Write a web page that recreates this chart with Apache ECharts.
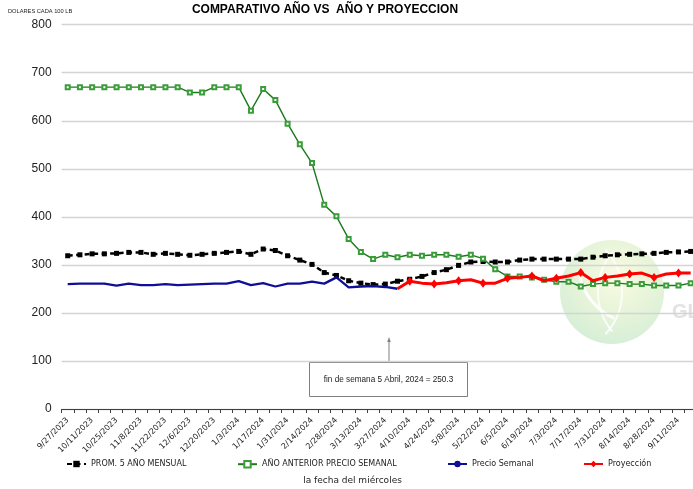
<!DOCTYPE html>
<html>
<head>
<meta charset="utf-8">
<script src="https://cdn.jsdelivr.net/npm/echarts@6/dist/echarts.min.js"></script>
<style>
  html, body { margin: 0; padding: 0; background: #ffffff; }
  #chart { width: 693px; height: 489px; }
</style>
</head>
<body>
<div id="chart"></div>
<script>
// Weekly Wednesday dates
const fechas = [
  '9/27/2023','10/4/2023','10/11/2023','10/18/2023','10/25/2023','11/1/2023','11/8/2023',
  '11/15/2023','11/22/2023','11/29/2023','12/6/2023','12/13/2023','12/20/2023','12/27/2023',
  '1/3/2024','1/10/2024','1/17/2024','1/24/2024','1/31/2024','2/7/2024','2/14/2024',
  '2/21/2024','2/28/2024','3/6/2024','3/13/2024','3/20/2024','3/27/2024','4/3/2024',
  '4/10/2024','4/17/2024','4/24/2024','5/1/2024','5/8/2024','5/15/2024','5/22/2024',
  '5/29/2024','6/5/2024','6/12/2024','6/19/2024','6/26/2024','7/3/2024','7/10/2024',
  '7/17/2024','7/24/2024','7/31/2024','8/7/2024','8/14/2024','8/21/2024','8/28/2024',
  '9/4/2024','9/11/2024','9/18/2024'
];

// Five-year monthly average (USD per 100 lb)
const promedio5Anos = [
  319, 321, 323, 323, 324, 326, 326, 322, 324, 322, 320, 322, 324, 326,
  328, 322, 333, 330, 319, 310, 301, 284, 278, 267, 262, 259, 260, 266,
  270, 276, 284, 290, 299, 306, 307, 306, 306, 310, 312, 312, 312, 312,
  312, 316, 319, 321, 322, 323, 324, 326, 327, 328
];

// Previous year's weekly price
const anoAnterior = [
  670, 670, 670, 670, 670, 670, 670, 670, 670, 670, 659, 659, 670, 670,
  670, 621, 666, 643, 594, 551, 512, 425, 401, 354, 327, 312, 321, 316,
  321, 319, 321, 321, 317, 321, 313, 291, 276, 276, 274, 269, 265, 265,
  255, 260, 262, 262, 260, 260, 257, 257, 257, 262
];

// Weekly price (9/27/2023 .. 4/3/2024)
const precioSemanal = [
  260, 261, 261, 261, 257, 261, 258, 258, 260, 258, 259, 260, 261, 261,
  266, 258, 262, 255, 261, 261, 265, 261, 274, 253, 255, 256, 254, 250.3
];

// Projection (4/3/2024 .. 9/18/2024)
const proyeccion = [
  250.3, 266, 262, 260, 263, 267, 269, 262, 262, 272, 274, 277, 267,
  272, 277, 284, 267, 274, 277, 281, 283, 274, 281, 283, 283
];

const yTicks = { min: 0, max: 800, interval: 100 };

const proyeccionInicio = fechas.length - proyeccion.length;
const blanco = n => Array(n).fill('-');
const serieSemanal = precioSemanal.concat(blanco(fechas.length - precioSemanal.length));
const serieProyeccion = blanco(proyeccionInicio).concat(proyeccion);

const legendFont = { fontFamily: 'DejaVu Sans', fontSize: 8, color: '#222' };
function legendAt(name, left) {
  return {
    data: [name], left: left, top: 460, itemWidth: 19, itemHeight: 8, itemGap: 5,
    textStyle: legendFont, padding: 0, selectedMode: false
  };
}

const chart = echarts.init(document.getElementById('chart'), null, { renderer: 'canvas' });

chart.setOption({
  animation: false,
  backgroundColor: '#ffffff',
  title: [
    {
      text: 'COMPARATIVO AÑO VS  AÑO Y PROYECCION',
      left: 325, top: 4, textAlign: 'center',
      textStyle: { fontFamily: 'Liberation Sans', fontWeight: 'bold', fontSize: 12, color: '#000' },
      padding: 0
    },
    {
      text: 'DOLARES CADA 100 LB',
      left: 8, top: 8,
      textStyle: { fontFamily: 'Liberation Sans', fontWeight: 'normal', fontSize: 5.7, color: '#222' },
      padding: 0
    },
    {
      text: 'la fecha del miércoles',
      left: 352.5, top: 476, textAlign: 'center',
      textStyle: { fontFamily: 'DejaVu Sans', fontWeight: 'normal', fontSize: 9, color: '#222' },
      padding: 0
    }
  ],
  legend: [
    legendAt('PROM. 5 AÑO MENSUAL', 66),
    legendAt('AÑO ANTERIOR PRECIO SEMANAL', 237),
    legendAt('Precio Semanal', 447),
    legendAt('Proyección', 583)
  ],
  grid: {
    left: 61.6, top: 24.7, width: 635.2, height: 384.3,
    containLabel: false, outerBoundsMode: 'none'
  },
  xAxis: {
    type: 'category',
    data: fechas,
    boundaryGap: true,
    axisLine: { lineStyle: { color: '#404040', width: 1.2 } },
    axisTick: { show: true, interval: 0, length: 4, lineStyle: { color: '#404040' } },
    axisLabel: {
      interval: 1, rotate: 45, margin: 10,
      fontFamily: 'DejaVu Sans', fontSize: 8, color: '#222'
    },
    splitLine: { show: false }
  },
  yAxis: {
    type: 'value',
    min: yTicks.min, max: yTicks.max, interval: yTicks.interval,
    axisLine: { show: false },
    axisTick: { show: false },
    axisLabel: { fontFamily: 'Liberation Sans', fontSize: 12, color: '#222', margin: 10 },
    splitLine: { lineStyle: { color: '#d4d4d4', width: 1.3 } }
  },
  series: [
    {
      name: 'PROM. 5 AÑO MENSUAL',
      type: 'line',
      data: promedio5Anos,
      symbol: 'rect', symbolSize: 5,
      itemStyle: { color: '#000000' },
      lineStyle: { color: '#000000', width: 2.5, type: [5, 3.5] },
      z: 2
    },
    {
      name: 'AÑO ANTERIOR PRECIO SEMANAL',
      type: 'line',
      data: anoAnterior,
      symbol: 'emptyRect', symbolSize: 4,
      itemStyle: { color: '#3a9d3a', borderColor: '#3a9d3a', borderWidth: 1 },
      lineStyle: { color: '#1c7a1c', width: 1.4 },
      z: 3
    },
    {
      name: 'Precio Semanal',
      type: 'line',
      data: serieSemanal,
      symbol: 'none', showSymbol: false,
      itemStyle: { color: '#0e0e96' },
      lineStyle: { color: '#0e0e96', width: 2.3 },
      z: 4
    },
    {
      name: 'Proyección',
      type: 'line',
      data: serieProyeccion,
      symbol: 'diamond', symbolSize: [7, 9],
      itemStyle: { color: '#ff0000' },
      lineStyle: { color: '#ff0000', width: 3 },
      z: 5
    }
  ],
  graphic: [
    // faint globe watermark
    {
      type: 'group', z: -1, silent: true,
      children: [
        {
          type: 'circle', shape: { cx: 612, cy: 292, r: 52 },
          style: {
            fill: new echarts.graphic.RadialGradient(0.55, 0.35, 0.75, [
              { offset: 0, color: 'rgba(248,251,222,0.85)' },
              { offset: 0.45, color: 'rgba(226,242,208,0.8)' },
              { offset: 1, color: 'rgba(198,232,204,0.8)' }
            ])
          }
        },
        {
          type: 'arc', shape: { cx: 660, cy: 292, r: 62, startAngle: 2.45, endAngle: 3.85 },
          style: { stroke: 'rgba(255,255,255,0.8)', lineWidth: 2, fill: null }
        },
        {
          type: 'arc', shape: { cx: 560, cy: 292, r: 62, startAngle: -0.75, endAngle: 0.75 },
          style: { stroke: 'rgba(255,255,255,0.8)', lineWidth: 2, fill: null }
        },
        {
          type: 'arc', shape: { cx: 640, cy: 262, r: 62, startAngle: 2.0, endAngle: 2.9 },
          style: { stroke: 'rgba(255,255,255,0.9)', lineWidth: 3, fill: null }
        },
        {
          type: 'text', left: 672, top: 302,
          style: { text: 'GL', fill: '#e2e2e2', font: 'bold 20px "Liberation Sans"' }
        }
      ]
    },
    // note box with arrow
    {
      type: 'group', z: 10,
      children: [
        {
          type: 'line', shape: { x1: 389, y1: 362, x2: 389, y2: 340 },
          style: { stroke: '#808080', lineWidth: 1 }
        },
        {
          type: 'polygon', shape: { points: [[389, 337], [387.2, 342], [390.8, 342]] },
          style: { fill: '#808080' }
        },
        {
          type: 'rect', shape: { x: 309.5, y: 362.5, width: 158, height: 34 },
          style: { fill: '#ffffff', stroke: '#7f7f7f', lineWidth: 1 }
        },
        {
          type: 'text', x: 388.5, y: 380,
          style: {
            text: 'fin de semana 5 Abril, 2024 = 250.3',
            font: '8.2px "Liberation Sans"', fill: '#222',
            align: 'center', verticalAlign: 'middle'
          }
        }
      ]
    }
  ]
});
</script>
</body>
</html>
